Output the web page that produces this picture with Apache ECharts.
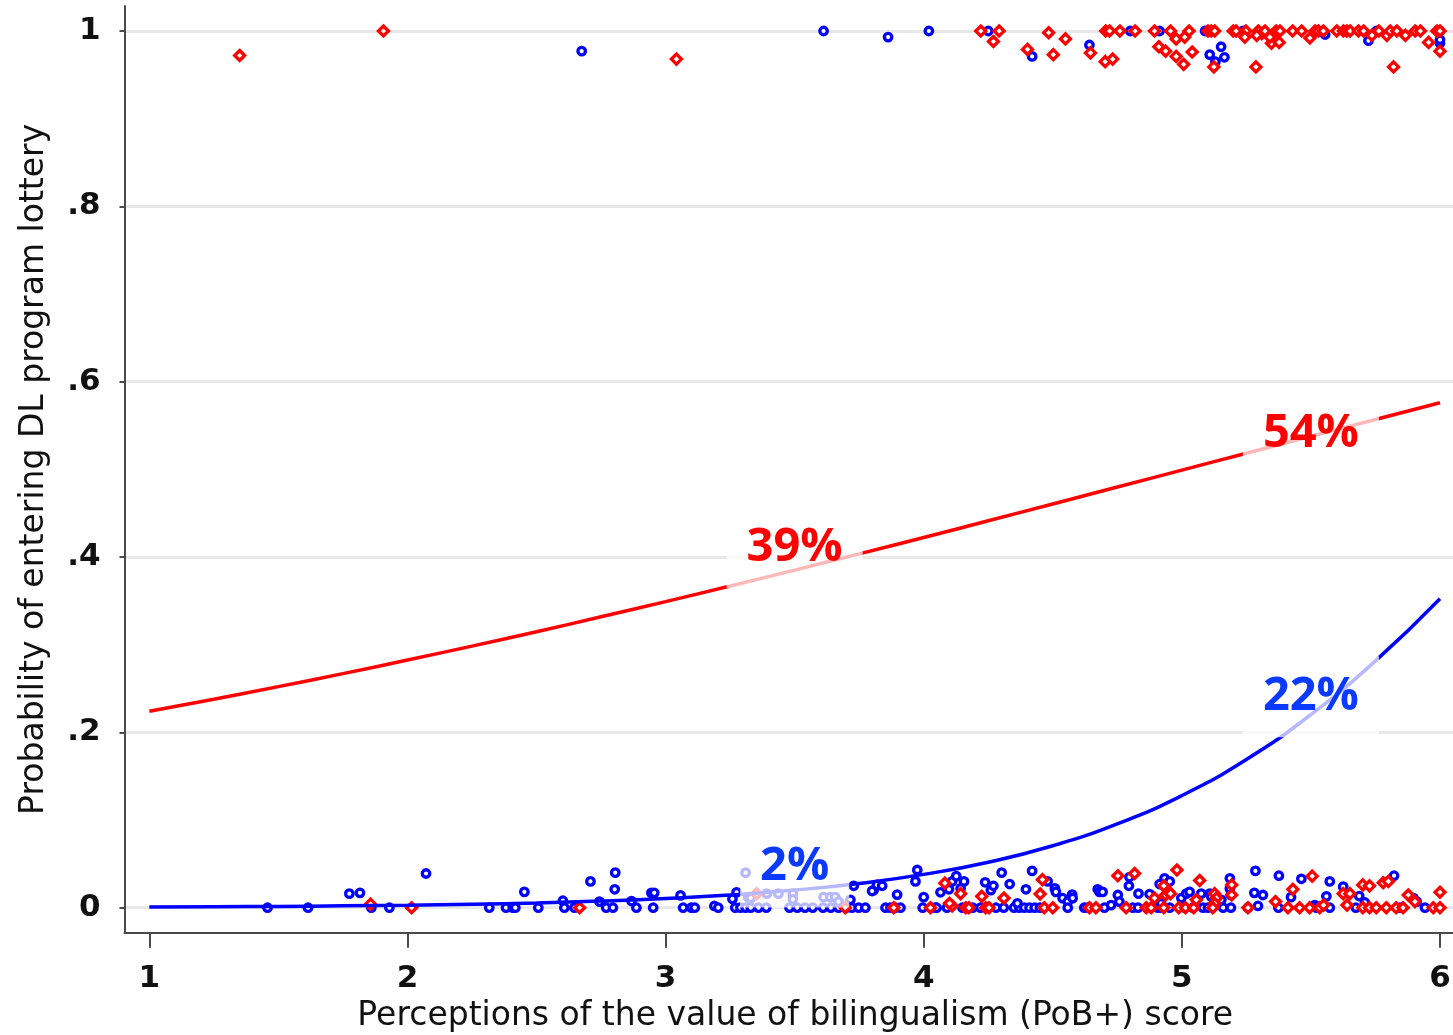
<!DOCTYPE html>
<html>
<head>
<meta charset="utf-8">
<script src="https://cdn.jsdelivr.net/npm/echarts@6/dist/echarts.min.js"></script>
<style>
html,body{margin:0;padding:0;background:#fff;}
#chart{width:1453px;height:1035px;}
</style>
</head>
<body>
<div id="chart"></div>
<script>
// ---- data ----
var xTicks = [1, 2, 3, 4, 5, 6];
var xTickLabels = ['1', '2', '3', '4', '5', '6'];
var yTicks = [0, 0.2, 0.4, 0.6, 0.8, 1];
var yTickLabels = ['0', '.2', '.4', '.6', '.8', '1'];

var curveX = [1, 1.25, 1.5, 1.75, 2, 2.25, 2.5, 2.75, 3, 3.25, 3.5, 3.75, 4, 4.25, 4.5, 4.75, 5, 5.25, 5.5, 5.75, 6];
var blueFit = [0.0008, 0.0011, 0.0015, 0.0021, 0.0029, 0.0040, 0.0055, 0.0076, 0.0105, 0.0145, 0.0201, 0.0277, 0.0380, 0.0519, 0.0707, 0.0956, 0.1279, 0.1691, 0.2203, 0.2816, 0.3525];
var redFit = [0.2241, 0.2377, 0.2522, 0.2670, 0.2825, 0.2984, 0.3148, 0.3318, 0.3491, 0.3669, 0.3851, 0.4036, 0.4223, 0.4413, 0.4605, 0.4798, 0.4991, 0.5184, 0.5377, 0.5569, 0.5759];

var blueDots = [
 [2.675,0.977],[3.612,1],[3.862,0.993],[4.02,1],[4.25,1],[4.42,0.971],[4.642,0.984],[4.80,1],[4.914,1],[5.09,1],
 [5.108,0.973],[5.13,0.965],[5.152,0.982],[5.165,0.970],[5.237,1],[5.555,0.996],[5.723,0.989],[5.754,1],[6.0,1],[6.0,0.986],[6.0,0.99],
 [1.458,0],[1.615,0],[1.775,0.016],[1.816,0.017],[1.86,0],[1.93,0],[2.072,0.039],[2.317,0],[2.382,0],[2.408,0],[2.418,0],
 [2.453,0.018],[2.507,0],[2.602,0.008],[2.608,0],[2.647,0],[2.709,0.03],[2.744,0.007],[2.77,0],[2.796,0],[2.803,0.021],[2.805,0.040],
 [2.868,0.0076],[2.887,0],[2.945,0.017],[2.956,0.017],[2.952,0],[3.058,0.014],[3.068,0],[3.10,0],[3.113,0],[3.189,0.002],[3.204,0],
 [3.259,0.01],[3.275,0.0176],[3.27,0],[3.29,0],[3.31,0],[3.33,0],[3.36,0],[3.39,0],[3.31,0.040],[3.32,0.012],[3.33,0.011],
 [3.392,0.016],[3.437,0.016],[3.493,0.016],[3.493,0.0096],[3.48,0],[3.51,0],[3.54,0],[3.57,0],[3.612,0.012],[3.638,0.012],[3.657,0.012],
 [3.61,0],[3.64,0],[3.67,0],[3.70,0],[3.67,0.007],[3.716,0.009],[3.729,0.025],[3.722,0],[3.748,0],[3.774,0],[3.806,0.02],[3.819,0.026],
 [3.839,0.025],[3.80,0.019],[3.852,0],[3.871,0],[3.89,0],[3.91,0],[3.897,0.015],[3.975,0.043],[3.968,0.03],[4.0,0.012],[3.996,0],
 [4.03,0],[4.045,0],[4.065,0.0176],[4.098,0.021],[4.11,0.03],[4.126,0.036],[4.143,0.022],[4.156,0.03],[4.238,0.029],[4.26,0.020],
 [4.27,0.025],[4.302,0.040],[4.333,0.027],[4.396,0.021],[4.42,0.042],[4.05,0],[4.09,0],[4.15,0],[4.19,0],[4.22,0],[4.28,0],[4.31,0],
 [4.35,0],[4.37,0],[4.39,0],[4.41,0],[4.363,0.005],
 [4.43,0],[4.45,0],[4.48,0.03],[4.508,0.022],[4.512,0.018],[4.538,0.011],[4.558,0.007],[4.575,0.015],[4.577,0.011],[4.558,0],
 [4.622,0],[4.635,0],[4.674,0.021],[4.681,0.018],[4.693,0.018],[4.70,0],[4.726,0.003],[4.752,0.0145],[4.758,0.007],[4.797,0.035],
 [4.795,0.025],[4.81,0],[4.83,0],[4.832,0.016],[4.875,0.0156],[4.907,0],[4.92,0],[4.953,0],[4.914,0.027],[4.933,0.0335],[4.953,0.03],
 [4.92,0.005],[4.998,0.011],[5.017,0.016],[5.03,0.018],[5.011,0],[5.043,0],[5.082,0],[5.101,0],[5.075,0.016],[5.108,0.016],
 [5.114,0.0125],[5.153,0.009],[5.16,0],[5.186,0.0335],[5.186,0.022],[5.19,0.0145],[5.19,0],
 [5.285,0.042],[5.281,0.017],[5.314,0.0145],[5.256,0],[5.295,0.002],[5.376,0.0365],[5.374,0],[5.423,0.012],[5.463,0.033],
 [5.515,0.003],[5.521,0],[5.56,0.013],[5.573,0],[5.573,0.03],[5.625,0.024],[5.674,0],[5.687,0.0133],[5.709,0.006],[5.822,0.0365],
 [5.845,0],[5.897,0.011],[5.91,0.007],[5.942,0]
];

var redDots = [
 [1.35,0.972],[1.907,1],[3.042,0.968],[4.221,1],[4.292,1],[4.27,0.988],[4.484,0.998],[4.402,0.979],[4.502,0.973],[4.549,0.991],
 [4.646,0.975],[4.703,0.965],[4.732,0.968],[4.705,1],[4.72,1],[4.76,1],[4.819,1],[4.894,1],[4.956,1],[4.911,0.982],[4.937,0.977],
 [4.978,0.991],[4.978,0.971],[5.007,0.962],[5.011,0.993],[5.028,1],[5.04,0.976],[5.101,1],[5.114,1],[5.127,1],[5.124,0.959],
 [5.199,1],[5.21,1],[5.248,1],[5.244,0.993],[5.287,0.959],[5.296,1],[5.31,0.997],[5.322,1],[5.29,0.995],[5.347,0.986],[5.377,0.987],
 [5.341,0.993],[5.365,1],[5.38,1],[5.429,1],[5.464,1],[5.496,0.992],[5.516,1],[5.529,1],[5.548,1],[5.6,1],[5.626,1],[5.639,1],
 [5.652,1],[5.684,1],[5.704,1],[5.736,0.995],[5.763,1],[5.794,0.995],[5.807,1],[5.833,1],[5.82,0.959],[5.866,0.995],[5.904,1],
 [5.924,1],[5.956,0.987],[5.988,1],[6.0,1],[6.0,0.977],
 [1.857,0.004],[2.016,0],[2.667,0],[3.353,0.016],[3.696,0],[3.884,0],[4.026,0],[4.082,0.028],[4.143,0.016],[4.11,0.002],[4.1,0.005],
 [4.163,0],[4.175,0],[4.225,0.013],[4.24,0],[4.253,0],[4.311,0.011],
 [4.46,0.032],[4.451,0.0156],[4.467,0],[4.5,0],[4.642,0],[4.667,0],[4.752,0.0365],[4.817,0.039],[4.784,0],[4.862,0],[4.881,0],
 [4.894,0.011],[4.93,0.025],[4.937,0.0145],[4.95,0.018],[4.956,0.016],[4.981,0.043],[4.93,0],[4.988,0],[5.014,0],[5.046,0],
 [5.069,0.031],[5.056,0.009],[5.127,0.016],[5.134,0.011],[5.127,0.005],[5.12,0],[5.193,0.026],[5.193,0.0145],
 [5.256,0],[5.363,0.007],[5.43,0.021],[5.411,0],[5.456,0],[5.495,0],[5.534,0],[5.505,0.036],[5.549,0.003],[5.625,0.016],
 [5.651,0.016],[5.64,0.003],[5.701,0.026],[5.727,0.025],[5.78,0.0285],[5.80,0.03],[5.701,0],[5.727,0],[5.753,0],[5.792,0],
 [5.83,0],[5.857,0],[5.877,0.0145],[5.903,0.007],[5.974,0],[6.0,0],[6.0,0.0176]
];

var redLabels = [[3.5, 0.411, '39%'], [5.5, 0.541, '54%']];
var blueLabels = [[3.5, 0.0464, '2%'], [5.5, 0.2405, '22%']];

var xTitle = 'Perceptions of the value of bilingualism (PoB+) score';
var yTitle = 'Probability of entering DL program lottery';

// ---- chart ----
var RED = '#ff0000', BLUE = '#0000ff', LABEL_BLUE = '#0a3aff';
var AXIS_COLOR = '#4a4a4a';
var FONT = 'DejaVu Sans';

function pairs(xs, ys) { return xs.map(function (x, i) { return [x, ys[i]]; }); }

function labelSeries(data, color) {
  return {
    type: 'scatter', z: 10, silent: true,
    symbolSize: 1, itemStyle: { color: 'rgba(255,255,255,0)' },
    data: data,
    label: {
      show: true, position: 'inside', opacity: 1,
      formatter: function (p) { return p.value[2]; },
      color: color, fontFamily: 'Open Sans', fontWeight: 'bold', fontSize: 47,
      lineHeight: 47,
      textBorderWidth: 0, textShadowBlur: 0,
      backgroundColor: 'rgba(255,255,255,0.72)',
      padding: [17, 20, 17, 20]
    }
  };
}

var chart = echarts.init(document.getElementById('chart'), null, { renderer: 'canvas' });
chart.setOption({
  animation: false,
  backgroundColor: '#ffffff',
  grid: { left: 124.5, right: 0, top: 6, bottom: 102.3, containLabel: false, outerBoundsMode: 'none' },
  xAxis: {
    type: 'value', min: 0.9039, max: 6.0504,
    name: xTitle, nameLocation: 'middle', nameGap: 67,
    nameTextStyle: { fontFamily: FONT, fontSize: 33, color: '#111', padding: [0, 0, 0, 13] },
    axisLine: { show: true, onZero: false, lineStyle: { color: AXIS_COLOR, width: 2 } },
    axisTick: { show: true, length: 15, customValues: xTicks, lineStyle: { color: AXIS_COLOR, width: 2 } },
    axisLabel: {
      show: true, customValues: xTicks, margin: 31,
      fontFamily: FONT, fontSize: 31, fontWeight: 'bold', color: '#111',
      formatter: function (v) { var i = xTicks.indexOf(v); return i >= 0 ? xTickLabels[i] : ''; }
    },
    splitLine: { show: false }
  },
  yAxis: {
    type: 'value', min: -0.0285, max: 1.0285,
    name: yTitle, nameLocation: 'middle', nameGap: 74, nameRotate: 90,
    nameTextStyle: { fontFamily: FONT, fontSize: 33, color: '#111' },
    axisLine: { show: true, onZero: false, lineStyle: { color: AXIS_COLOR, width: 2 } },
    axisTick: { show: true, length: 5, customValues: yTicks, lineStyle: { color: AXIS_COLOR, width: 2 } },
    axisLabel: {
      show: true, customValues: yTicks, margin: 24,
      fontFamily: FONT, fontSize: 31, fontWeight: 'bold', color: '#111',
      formatter: function (v) {
        for (var i = 0; i < yTicks.length; i++) { if (Math.abs(yTicks[i] - v) < 1e-9) return yTickLabels[i]; }
        return '';
      }
    },
    splitLine: { show: false }
  },
  series: [
    {
      type: 'line', data: [], z: 0, silent: true,
      markLine: {
        z: 0, silent: true, symbol: ['none', 'none'], animation: false,
        label: { show: false },
        lineStyle: { color: '#e8e8e8', width: 3, type: 'solid' },
        data: yTicks.map(function (v) { return { yAxis: v }; })
      }
    },
    {
      type: 'scatter', z: 2, data: blueDots, symbol: 'circle', symbolSize: 7.5,
      itemStyle: { color: '#ffffff', borderColor: BLUE, borderWidth: 3.3, opacity: 1 }
    },
    {
      type: 'scatter', z: 3, data: redDots, symbol: 'diamond', symbolSize: 10,
      itemStyle: { color: '#ffffff', borderColor: RED, borderWidth: 3.3, opacity: 1 }
    },
    {
      type: 'line', z: 4, data: pairs(curveX, redFit), smooth: true, showSymbol: false, symbol: 'none',
      lineStyle: { color: RED, width: 3.5 }
    },
    {
      type: 'line', z: 4, data: pairs(curveX, blueFit), smooth: true, showSymbol: false, symbol: 'none',
      lineStyle: { color: BLUE, width: 3.5 }
    },
    labelSeries(redLabels, RED),
    labelSeries(blueLabels, LABEL_BLUE)
  ]
});
</script>
</body>
</html>
